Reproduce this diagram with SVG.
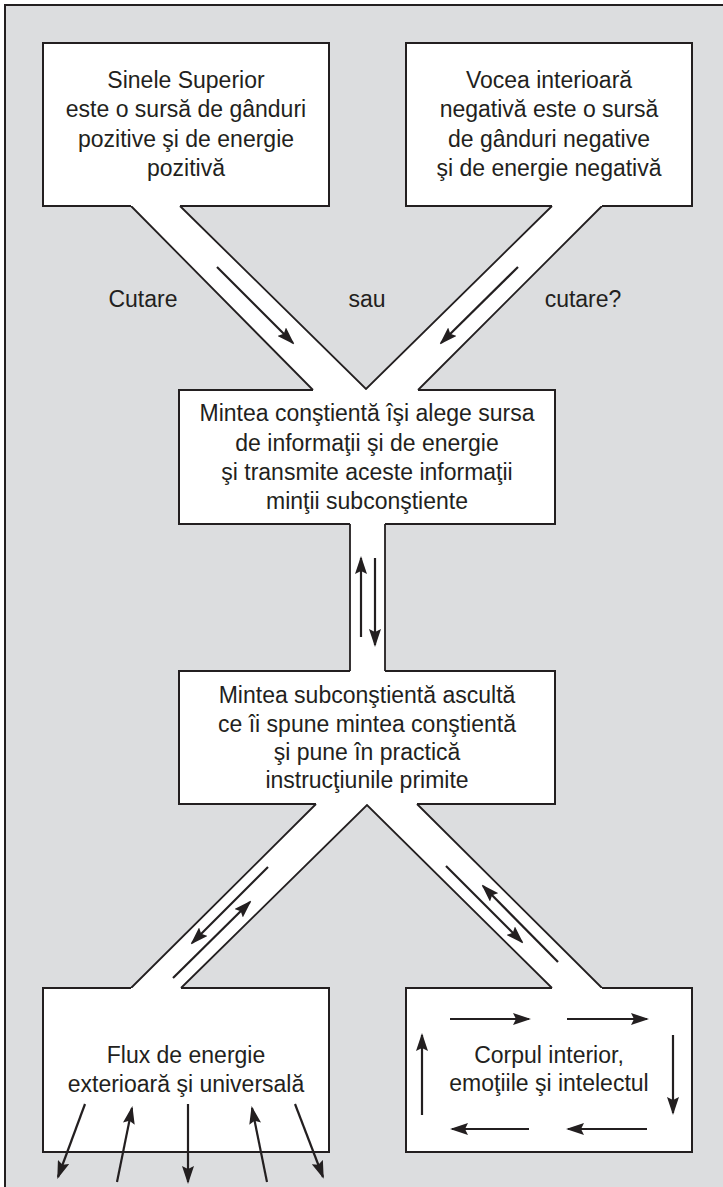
<svg xmlns="http://www.w3.org/2000/svg" width="723" height="1187" viewBox="0 0 723 1187">
<style>
.bg{fill:#dcdddf;stroke:#231f20;stroke-width:2}
.fill{fill:#ffffff;stroke:none}
.edge{fill:none;stroke:#231f20;stroke-width:2;stroke-linejoin:miter}
.side{fill:none;stroke:#231f20;stroke-width:1.8}
.arr{fill:none;stroke:#231f20;stroke-width:2.2;marker-end:url(#ah)}
.t{font-family:"Liberation Sans",Arial,sans-serif;font-size:23px;fill:#231f20;text-anchor:middle}
</style>
<defs>
<marker id="ah" viewBox="0 0 18 12" refX="16" refY="6" markerWidth="18" markerHeight="12" markerUnits="userSpaceOnUse" orient="auto">
<path d="M0,0 L18,6 L0,12 L3,6 Z" fill="#231f20"/>
</marker>
</defs>
<rect x="0" y="0" width="723" height="1187" fill="#ffffff"/>
<rect class="bg" x="5" y="5" width="740" height="1200"/>

<g id="connectors">
<path class="fill" d="M131,206 L180,206 L366,390 L552,206 L602,206 L418,390 L313,390 Z"/>
<rect class="fill" x="350" y="523" width="35" height="149"/>
<path class="fill" d="M316,804 L417,804 L602,988 L552,988 L367,805 L181,988 L131,988 Z"/>
<path class="side" d="M131,206 L313,390 M180,206 L366,389 L552,206 M602,206 L418,390"/>
<path class="side" d="M350,524 V671 M385,524 V671"/>
<path class="side" d="M316,804 L131,988 M181,988 L367,805 L552,988 M417,804 L602,988"/>
<path class="arr" d="M217,267 L293,343"/>
<path class="arr" d="M518,267 L441,343"/>
<path class="arr" d="M361,637 L361,558"/>
<path class="arr" d="M375,558 L375,645"/>
<path class="arr" d="M268,867 L192,943"/>
<path class="arr" d="M173,978 L250,902"/>
<path class="arr" d="M446,866 L522,942"/>
<path class="arr" d="M558,962 L483,886"/>
</g>

<g id="labels">
<text class="t" x="143" y="307">Cutare</text>
<text class="t" x="367" y="307">sau</text>
<text class="t" x="583" y="307">cutare?</text>
</g>

<g id="node-sinele">
<rect class="fill" x="43" y="43" width="286" height="163"/>
<path class="edge" d="M131,206 H43 V43 H329 V206 H180"/>
<text class="t" x="186" y="88">Sinele Superior</text>
<text class="t" x="186" y="117">este o sursă de gânduri</text>
<text class="t" x="186" y="147">pozitive şi de energie</text>
<text class="t" x="186" y="176">pozitivă</text>
</g>

<g id="node-vocea">
<rect class="fill" x="406" y="43" width="286" height="163"/>
<path class="edge" d="M552,206 H406 V43 H692 V206 H602"/>
<text class="t" x="549" y="88">Vocea interioară</text>
<text class="t" x="549" y="117">negativă este o sursă</text>
<text class="t" x="549" y="147">de gânduri negative</text>
<text class="t" x="549" y="176">şi de energie negativă</text>
</g>

<g id="node-constienta">
<rect class="fill" x="179" y="390" width="376" height="134"/>
<path class="edge" d="M313,390 H179 V524 H350 M385,524 H555 V390 H418"/>
<text class="t" x="367" y="421">Mintea conştientă îşi alege sursa</text>
<text class="t" x="367" y="451">de informaţii şi de energie</text>
<text class="t" x="367" y="480">şi transmite aceste informaţii</text>
<text class="t" x="367" y="509">minţii subconştiente</text>
</g>

<g id="node-subconstienta">
<rect class="fill" x="179" y="671" width="376" height="133"/>
<path class="edge" d="M350,671 H179 V804 H316 M417,804 H555 V671 H385"/>
<text class="t" x="367" y="703">Mintea subconştientă ascultă</text>
<text class="t" x="367" y="732">ce îi spune mintea conştientă</text>
<text class="t" x="367" y="760">şi pune în practică</text>
<text class="t" x="367" y="788">instrucţiunile primite</text>
</g>

<g id="node-flux">
<rect class="fill" x="43" y="988" width="286" height="164"/>
<path class="edge" d="M131,988 H43 V1152 H329 V988 H181"/>
<text class="t" x="186" y="1063">Flux de energie</text>
<text class="t" x="186" y="1092">exterioară şi universală</text>
<path class="arr" d="M85,1104 L58,1177"/>
<path class="arr" d="M117,1182 L132,1108"/>
<path class="arr" d="M188,1104 L188,1182"/>
<path class="arr" d="M267,1182 L252,1108"/>
<path class="arr" d="M295,1104 L323,1177"/>
</g>

<g id="node-corpul">
<rect class="fill" x="406" y="988" width="286" height="164"/>
<path class="edge" d="M552,988 H406 V1152 H692 V988 H602"/>
<text class="t" x="549" y="1063">Corpul interior,</text>
<text class="t" x="549" y="1091">emoţiile şi intelectul</text>
<path class="arr" d="M450,1019 L529,1019"/>
<path class="arr" d="M567,1019 L647,1019"/>
<path class="arr" d="M673,1035 L673,1113"/>
<path class="arr" d="M647,1129 L568,1129"/>
<path class="arr" d="M529,1129 L452,1129"/>
<path class="arr" d="M422,1115 L422,1035"/>
</g>
</svg>
